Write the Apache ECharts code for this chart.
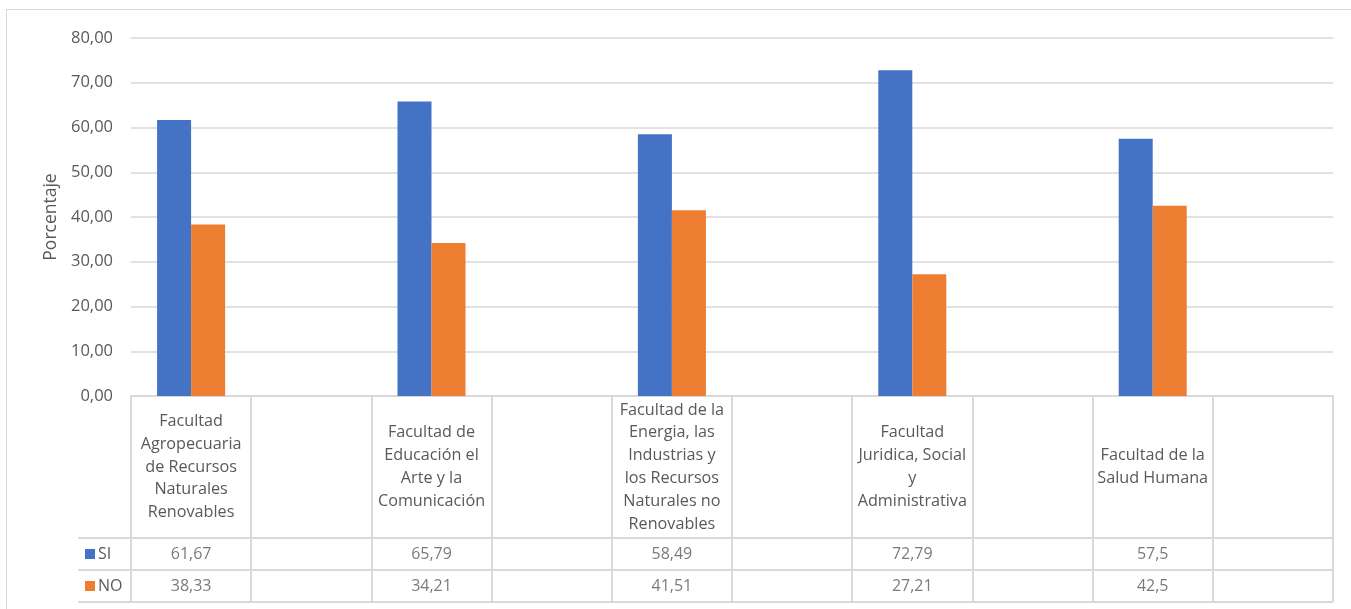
<!DOCTYPE html>
<html>
<head>
<meta charset="utf-8">
<script src="https://cdn.jsdelivr.net/npm/echarts@6/dist/echarts.min.js"></script>
<style>
  html, body { margin: 0; padding: 0; background: #fff; overflow: hidden; }
  #frame { position: absolute; left: 6px; top: 9px; width: 1400px; height: 700px; border: 1px solid #d9d9d9; }
  #chart { position: absolute; left: 0; top: 0; width: 1351px; height: 609px; }
</style>
</head>
<body>
<div id="frame"></div>
<div id="chart"></div>
<script>
// Facultades and survey answers (percent)
const facultades = [
  'Facultad Agropecuaria de Recursos Naturales Renovables',
  'Facultad de Educación el Arte y la Comunicación',
  'Facultad de la Energia, las Industrias y los Recursos Naturales no Renovables',
  'Facultad Juridica, Social y Administrativa',
  'Facultad de la Salud Humana'
];
const valoresSI = [61.67, 65.79, 58.49, 72.79, 57.5];
const valoresNO = [38.33, 34.21, 41.51, 27.21, 42.5];
const filas = ['SI', 'NO'];
const colores = ['#4472C4', '#ED7D31'];

// Each facultad is followed by an empty column in the data table
const categorias = facultades.flatMap(f => [f, '']);
const barrasSI = valoresSI.flatMap(v => [v, null]);
const barrasNO = valoresNO.flatMap(v => [v, null]);

const coma = v => String(v).replace('.', ',');
const celdas = [];
[valoresSI, valoresNO].forEach((serie, r) => {
  serie.forEach((v, i) => celdas.push([i * 2, filas[r], v]));
});

const FONT = 'Open Sans';
const HEAD_SIZE = 16.2;
const TEXT = '#595959';
const LINE = '#d9d9d9';

// Word-wrap a header so that each line fits inside a table cell
const medidor = document.createElement('canvas').getContext('2d');
medidor.font = HEAD_SIZE + 'px "' + FONT + '"';
function ajustar(texto, ancho) {
  const lineas = [];
  let actual = '';
  texto.split(' ').forEach(p => {
    const prueba = actual ? actual + ' ' + p : p;
    if (actual && medidor.measureText(prueba).width > ancho) {
      lineas.push(actual);
      actual = p;
    } else {
      actual = prueba;
    }
  });
  if (actual) lineas.push(actual);
  return lineas.join('\n');
}

const chart = echarts.init(document.getElementById('chart'), null, { renderer: 'canvas' });
chart.setOption({
  animation: false,
  textStyle: { fontFamily: FONT, color: TEXT },
  grid: [
    { left: 131, right: 18, top: 38, bottom: 213 },
    { left: 131, right: 18, top: 538, height: 64 }
  ],
  xAxis: [
    {
      type: 'category', gridIndex: 0, data: categorias,
      axisLine: { show: true, lineStyle: { color: LINE, width: 2 } },
      axisTick: { show: true, alignWithLabel: false, length: 206, lineStyle: { color: LINE, width: 2 } },
      axisLabel: {
        interval: 0, margin: 71, verticalAlign: 'middle', align: 'center',
        lineHeight: 22.8, fontSize: HEAD_SIZE, color: TEXT, fontFamily: FONT,
        formatter: v => ajustar(v, 112)
      }
    },
    {
      type: 'category', gridIndex: 1, data: categorias,
      axisLine: { show: false }, axisTick: { show: false }, axisLabel: { show: false }
    }
  ],
  yAxis: [
    {
      type: 'value', gridIndex: 0, min: 0, max: 80, interval: 10,
      name: 'Porcentaje', nameLocation: 'middle', nameGap: 62,
      nameTextStyle: { fontSize: 17.5, color: TEXT, fontFamily: FONT },
      axisLine: { show: false }, axisTick: { show: false },
      axisLabel: { margin: 18, fontSize: 16.5, color: TEXT, fontFamily: FONT, formatter: v => v.toFixed(2).replace('.', ',') },
      splitLine: { lineStyle: { color: LINE, width: 1.5 } }
    },
    {
      type: 'category', gridIndex: 1, data: filas, inverse: true,
      axisLine: { show: false },
      axisTick: { show: true, length: 53, lineStyle: { color: LINE, width: 2 } },
      splitLine: { show: true, lineStyle: { color: LINE, width: 2 } },
      axisLabel: {
        align: 'left', margin: 46,
        formatter: (v, i) => '{c' + i + '|}{t|' + v + '}',
        rich: {
          c0: { width: 10, height: 10, backgroundColor: colores[0] },
          c1: { width: 10, height: 10, backgroundColor: colores[1] },
          t: { fontSize: 16, color: TEXT, fontFamily: FONT, padding: [0, 0, 0, 3] }
        }
      }
    },
    {
      type: 'category', gridIndex: 1, data: filas, inverse: true, offset: 53,
      axisLine: { show: true, lineStyle: { color: LINE, width: 2 } },
      axisTick: { show: false }, axisLabel: { show: false }
    }
  ],
  series: [
    {
      name: 'SI', type: 'bar', xAxisIndex: 0, yAxisIndex: 0, data: barrasSI,
      barWidth: 34, barGap: '0%', itemStyle: { color: colores[0] }
    },
    {
      name: 'NO', type: 'bar', xAxisIndex: 0, yAxisIndex: 0, data: barrasNO,
      barWidth: 34, barGap: '0%', itemStyle: { color: colores[1] }
    },
    {
      type: 'scatter', xAxisIndex: 1, yAxisIndex: 1, data: celdas,
      symbolSize: 0, silent: true,
      label: {
        show: true, position: 'inside', fontSize: 16, color: TEXT, fontFamily: FONT,
        formatter: p => coma(p.value[2])
      }
    }
  ]
});
</script>
</body>
</html>
